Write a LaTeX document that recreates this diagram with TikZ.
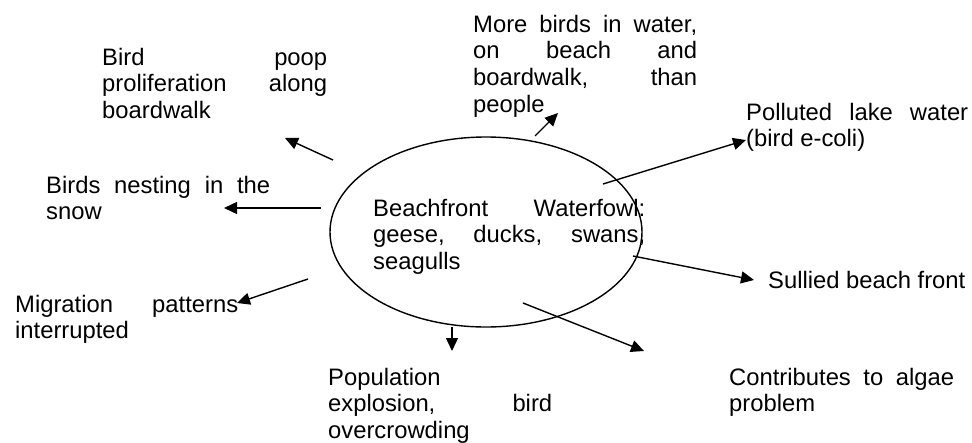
\documentclass[tikz,border=0pt]{standalone}
\usepackage{fontspec}
\setmainfont{Liberation Sans}
\usetikzlibrary{shapes.geometric, arrows.meta}
\hyphenpenalty=10000
\exhyphenpenalty=10000
\tolerance=10000

\begin{document}
\begin{tikzpicture}[
  x=1pt, y=-1pt,
  effect/.style={anchor=base west, inner sep=0pt, align=justify, font=\fontsize{23.8}{26.7}\selectfont},
  link/.style={-{Triangle[length=13pt, width=12pt]}, line width=1.4pt}
]
  \useasboundingbox (0,0) rectangle (972,442);

  % centre
  \node[draw, ellipse, line width=1.4pt, minimum width=312pt, minimum height=190pt, inner sep=0pt] (flock) at (486,232) {};
  \node[effect, text width=272pt] (waterfowl) at (373,216) {Beachfront Waterfowl:\linebreak geese, ducks, swans,\linebreak seagulls};

  % effects
  \node[effect, text width=225pt] (poop) at (102,65) {Bird poop\linebreak proliferation along\linebreak boardwalk};
  \node[effect, text width=224pt] (nesting) at (46,193) {Birds nesting in the\linebreak snow};
  \node[effect, text width=223pt] (migration) at (15,312) {Migration patterns\linebreak interrupted};
  \node[effect, text width=224pt] (morebirds) at (473,32) {More birds in water,\linebreak on beach and\linebreak boardwalk, than\linebreak people};
  \node[effect, text width=222pt] (polluted) at (746,120) {Polluted lake water\linebreak (bird e-coli)};
  \node[effect, text width=204pt] (sullied) at (768,288) {Sullied beach front};
  \node[effect, text width=225pt] (algae) at (729,385) {Contributes to algae\linebreak problem};
  \node[effect, text width=224pt] (population) at (328,385) {Population\linebreak explosion, bird\linebreak overcrowding};

  % arrow ends
  \coordinate (poopS) at (333,160);       \coordinate (poopE) at (285,138);
  \coordinate (nestingS) at (321,208);    \coordinate (nestingE) at (224,208);
  \coordinate (migrationS) at (308,279);  \coordinate (migrationE) at (237,303);
  \coordinate (morebirdsS) at (535,136);  \coordinate (morebirdsE) at (558,113);
  \coordinate (pollutedS) at (603,184);   \coordinate (pollutedE) at (746,140);
  \coordinate (sulliedS) at (633,256);    \coordinate (sulliedE) at (754,280);
  \coordinate (algaeS) at (523,303);      \coordinate (algaeE) at (644,351);
  \coordinate (populationS) at (452,327); \coordinate (populationE) at (452,351);

  \foreach \e in {poop, nesting, migration, morebirds, polluted, sullied, algae, population}
    \draw[link] (\e S) -- (\e E);
\end{tikzpicture}
\end{document}
